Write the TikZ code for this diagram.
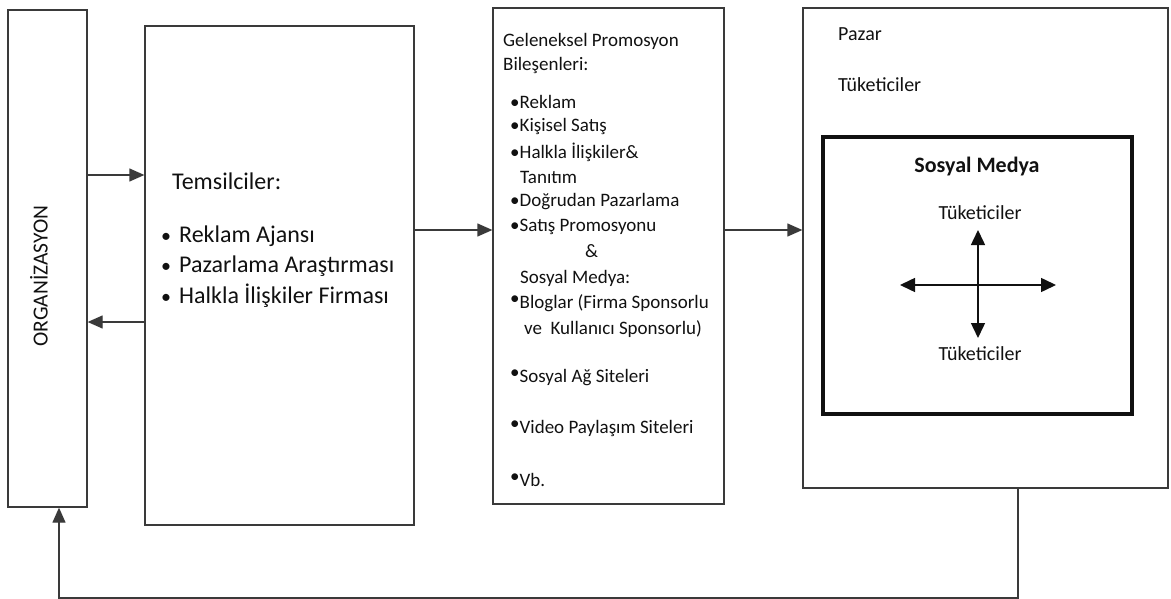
\documentclass[tikz,border=0pt]{standalone}
\usepackage{fontspec}
\setmainfont{Carlito}
\usetikzlibrary{arrows.meta,positioning}
\definecolor{edge}{HTML}{3A3A3A}
\definecolor{body}{HTML}{111111}

\tikzset{
  panel/.style={draw=edge, line width=1.3pt, inner sep=0pt},
  arr/.style={draw=edge, line width=1.3pt, -{Triangle[length=15pt,width=13pt]}},
  dblarr/.style={draw=body, line width=1.5pt, {Triangle[length=15pt,width=14pt]}-{Triangle[length=15pt,width=14pt]}},
  item/.style={anchor=west, inner sep=0pt, text=body}
}
\newcommand{\upbul}{\raisebox{4pt}{\textbullet}}

\begin{document}
\begin{tikzpicture}[x=1pt, y=-1pt]
  \useasboundingbox (0,0) rectangle (1171,599);

  % boxes
  \node[panel, minimum width=79pt, minimum height=497pt] (org) at (47.5,258.5) {};
  \node[panel, minimum width=269pt, minimum height=499pt] (tems) at (279.5,275.5) {};
  \node[panel, minimum width=231pt, minimum height=496pt] (promo) at (608.5,256) {};
  \node[panel, minimum width=365pt, minimum height=480pt] (mkt) at (985.5,248) {};
  \node[draw=body, line width=3.2pt, minimum width=309pt, minimum height=277pt] (sm) at (977.5,275.5) {};

  \node[rotate=90, text=body, font=\fontsize{21.5}{24}\selectfont] (orgtxt) at (39,276) {ORGANİZASYON};

  % temsilciler
  \node[item, font=\fontsize{24}{28}\selectfont] (temstitle) at (172,181) {Temsilciler:};
  \foreach \i/\y/\t in {1/236/Reklam Ajansı, 2/266/Pazarlama Araştırması, 3/296/Halkla İlişkiler Firması}
    \node[item, font=\fontsize{24}{28}\selectfont] (tems\i) at (161,\y) {{\fontsize{20}{24}\selectfont\textbullet}\hspace{8pt}\t};

  % promosyon list
  \foreach \i/\xx/\y/\t in {1/503/41/Geleneksel Promosyon, 2/503/66/Bileşenleri:,
      3/510/102/\textbullet Reklam, 4/510/127/\textbullet Kişisel Satış,
      5/510/152/\textbullet Halkla İlişkiler\&, 6/520/177/Tanıtım,
      7/510/202/\textbullet Doğrudan Pazarlama, 8/510/227/\textbullet Satış Promosyonu,
      9/585/251/\&, 10/520/278/Sosyal Medya:,
      11/510/303/\upbul Bloglar (Firma Sponsorlu, 12/524/329/ve\ \ Kullanıcı Sponsorlu),
      13/510/378/\upbul Sosyal Ağ Siteleri, 14/510/428/\upbul Video Paylaşım Siteleri,
      15/510/480/\upbul Vb.}
    \node[item, font=\fontsize{19}{22}\selectfont] (pl\i) at (\xx,\y) {\t};

  % pazar
  \node[item, font=\fontsize{20}{24}\selectfont] (pazar) at (838,34) {Pazar};
  \node[item, font=\fontsize{20}{24}\selectfont] (tuk) at (838,85) {Tüketiciler};
  \node[text=body, font=\bfseries\fontsize{22}{26}\selectfont] (smtitle) at (977,167) {Sosyal Medya};
  \node[text=body, font=\fontsize{20}{24}\selectfont] (tkup) at (980,213) {Tüketiciler};
  \node[text=body, font=\fontsize{20}{24}\selectfont] (tkdn) at (980,354) {Tüketiciler};
  \coordinate (cu) at (978,230);
  \coordinate (cd) at (978,338);
  \coordinate (cl) at (900,285);
  \coordinate (cr) at (1056,285);
  \draw[dblarr] (cu) -- (cd);
  \draw[dblarr] (cl) -- (cr);

  % connectors
  \draw[arr] (org.east |- 0,175) -- (tems.west |- 0,175);
  \draw[arr] (tems.west |- 0,322) -- (org.east |- 0,322);
  \draw[arr] (tems.east |- 0,230) -- (promo.west |- 0,230);
  \draw[arr] (promo.east |- 0,230) -- (mkt.west |- 0,230);
  \draw[arr] (mkt.south -| 1018,0) -- (1018,598) -| (org.south -| 59,0);
\end{tikzpicture}
\end{document}
